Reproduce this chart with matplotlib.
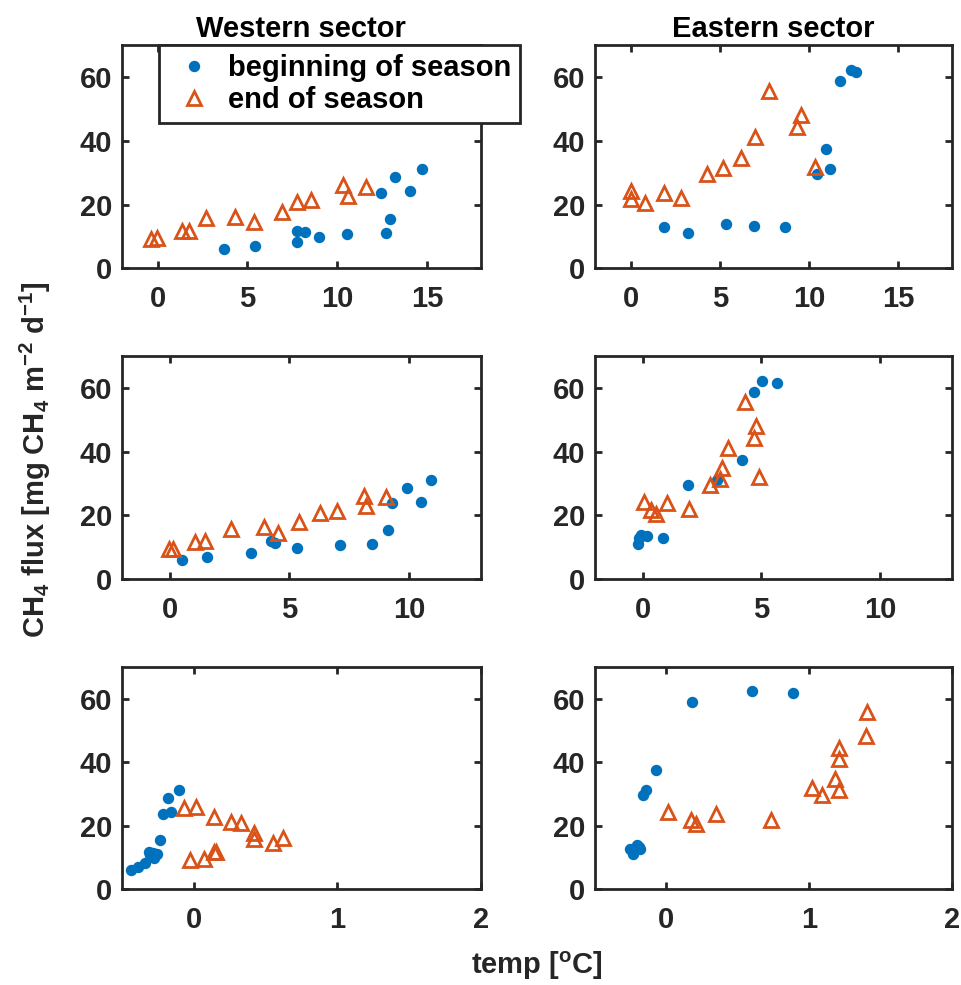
import matplotlib
matplotlib.use("Agg")
import matplotlib.pyplot as plt

plt.rcParams['font.family'] = ['Liberation Sans', 'DejaVu Sans']
plt.rcParams['font.weight'] = 'bold'
plt.rcParams['mathtext.fontset'] = 'custom'
plt.rcParams['mathtext.rm'] = 'Liberation Sans:bold'
plt.rcParams['mathtext.default'] = 'rm'

BLUE = '#0072BD'
ORANGE = '#D95319'
AXC = '#262626'

# flux values (mg CH4 m-2 d-1)
west_begin_flux = [6.0, 7.0, 8.2, 11.8, 11.4, 9.8, 10.8, 11.0, 15.5, 23.7, 28.6, 24.2, 31.2]
west_end_flux = [9.3, 9.4, 11.7, 11.8, 15.8, 16.2, 14.5, 17.8, 20.8, 21.3, 26.0, 22.8, 25.6]
east_begin_flux = [12.8, 11.0, 13.9, 13.4, 12.8, 29.5, 37.5, 31.2, 58.8, 62.3, 61.6]
east_end_flux = [24.2, 21.8, 20.5, 23.7, 21.9, 29.5, 31.3, 34.7, 41.1, 55.6, 44.4, 48.1, 31.9]

# temperatures per row (top, middle, bottom)
west_begin_temp = [
    [3.70, 5.41, 7.78, 7.78, 8.19, 8.98, 10.56, 12.69, 12.96, 12.46, 13.20, 14.07, 14.72],
    [0.50, 1.57, 3.40, 4.23, 4.41, 5.31, 7.12, 8.47, 9.10, 9.29, 9.92, 10.51, 10.90],
    [-0.435, -0.387, -0.340, -0.31, -0.28, -0.278, -0.30, -0.255, -0.236, -0.213, -0.178, -0.155, -0.102],
]
west_end_temp = [
    [-0.37, -0.04, 1.35, 1.76, 2.69, 4.31, 5.37, 6.90, 7.78, 8.52, 10.31, 10.59, 11.61],
    [-0.03, 0.15, 1.08, 1.47, 2.58, 3.93, 4.52, 5.42, 6.26, 6.98, 8.11, 8.18, 9.02],
    [-0.023, 0.074, 0.139, 0.157, 0.421, 0.625, 0.556, 0.421, 0.329, 0.262, 0.016, 0.139, -0.069],
]
east_begin_temp = [
    [1.85, 3.20, 5.37, 6.91, 8.65, 10.46, 10.98, 11.17, 11.72, 12.35, 12.65],
    [-0.15, -0.18, -0.07, 0.17, 0.86, 1.90, 4.17, 3.13, 4.68, 5.04, 5.67],
    [-0.256, -0.233, -0.205, -0.19, -0.186, -0.167, -0.070, -0.140, 0.179, 0.600, 0.888],
]
east_end_temp = [
    [0.0, 0.0, 0.83, 1.89, 2.83, 4.30, 5.15, 6.17, 6.98, 7.78, 9.30, 9.57, 10.33],
    [0.07, 0.35, 0.56, 1.01, 1.94, 2.85, 3.26, 3.36, 3.61, 4.31, 4.69, 4.75, 4.90],
    [0.012, 0.17, 0.205, 0.349, 0.737, 1.093, 1.209, 1.181, 1.209, 1.407, 1.209, 1.40, 1.023],
]

xlims = [(-2, 18), (-2, 13), (-0.5, 2)]
xticks = [[0, 5, 10, 15], [0, 5, 10], [0, 1, 2]]
yticks = [0, 20, 40, 60]

W, H = 962, 985
fig = plt.figure(figsize=(W / 100, H / 100), dpi=100)

col_x = [(121.7, 481.0), (595.0, 951.7)]
row_y = [(45.0, 268.3), (356.0, 579.0), (666.7, 889.3)]

sectors = [
    ('Western sector', west_begin_flux, west_end_flux, west_begin_temp, west_end_temp),
    ('Eastern sector', east_begin_flux, east_end_flux, east_begin_temp, east_end_temp),
]

FS = 21

for c, (title, bflux, eflux, btemp, etemp) in enumerate(sectors):
    x0, x1 = col_x[c]
    for r in range(3):
        y0, y1 = row_y[r]
        ax = fig.add_axes([x0 / W, 1 - y1 / H, (x1 - x0) / W, (y1 - y0) / H])
        ax.plot(btemp[r], bflux, 'o', color=BLUE, ms=7.2, mec=BLUE,
                label='beginning of season', zorder=3)
        ax.plot(etemp[r], eflux, '^', color=ORANGE, mfc='none', ms=10, mew=2,
                label='end of season', zorder=3)
        ax.set_xlim(*xlims[r])
        ax.set_ylim(0, 70)
        ax.set_xticks(xticks[r])
        ax.set_yticks(yticks)
        ax.tick_params(direction='in', top=True, right=True, length=5, width=2,
                       color=AXC, labelcolor=AXC, labelsize=FS)
        ax.tick_params(axis='x', pad=12)
        ax.tick_params(axis='y', pad=7)
        for s in ax.spines.values():
            s.set_linewidth(2)
            s.set_color(AXC)
        if r == 0:
            ax.set_title(title, fontsize=FS, fontweight='bold', pad=6)
        if c == 0 and r == 0:
            leg = ax.legend(loc='upper left', bbox_to_anchor=(0.105, 1.0),
                            borderaxespad=0, fancybox=False, framealpha=1,
                            fontsize=FS, handletextpad=0.25, borderpad=0.3,
                            labelspacing=0.15, handlelength=1.8)
            leg.get_frame().set_edgecolor(AXC)
            leg.get_frame().set_linewidth(2)

fig.text(35 / W, 1 - 460 / H, r'CH$_4$ flux [mg CH$_4$ m$^{-2}$ d$^{-1}$]',
         rotation=90, ha='center', va='center', fontsize=FS, fontweight='bold',
         color=AXC)
fig.text(537 / W, 1 - 966 / H, r'temp [$^{\mathrm{o}}$C]', ha='center', va='center',
         fontsize=FS, fontweight='bold', color=AXC)

fig.savefig('out.png', dpi=100)
